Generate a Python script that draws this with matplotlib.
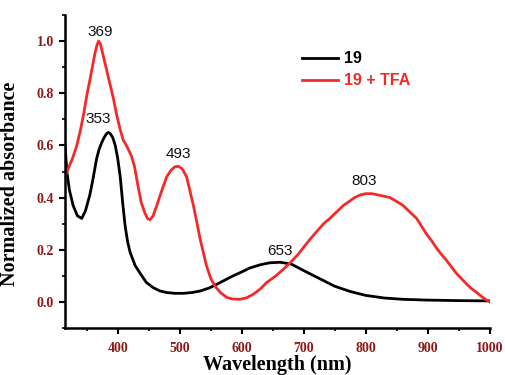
import matplotlib
matplotlib.use("Agg")
import matplotlib.pyplot as plt
from matplotlib.ticker import MultipleLocator

# Data
wl_black = [315, 318, 322, 328, 335, 342, 348, 355, 360, 366, 370, 374, 378, 382, 385, 388, 392,
            396, 400, 404, 408, 412, 416, 420, 428, 436, 446, 457, 468, 479, 492, 506, 520, 533,
            547, 560, 573, 586, 600, 613, 629, 645, 662, 680, 700, 725, 750, 775, 800, 830, 860,
            900, 950, 1000]
abs_black = [0.60, 0.50, 0.43, 0.37, 0.33, 0.32, 0.35, 0.41, 0.47, 0.55, 0.585, 0.61, 0.63,
             0.645, 0.65, 0.645, 0.63, 0.60, 0.55, 0.48, 0.38, 0.29, 0.23, 0.19, 0.14, 0.11,
             0.075, 0.055, 0.042, 0.036, 0.033, 0.033, 0.036, 0.042, 0.053, 0.068, 0.084, 0.100,
             0.115, 0.130, 0.142, 0.150, 0.152, 0.145, 0.120, 0.090, 0.060, 0.040, 0.025, 0.015,
             0.010, 0.007, 0.005, 0.004]

wl_red = [315, 320, 327, 334, 340, 345, 350, 355, 359, 363, 366, 369, 372, 376, 379, 382, 387,
          393, 398, 404, 409, 414, 418, 422, 427, 433, 438, 444, 448, 452, 457, 463, 470, 479,
          486, 492, 498, 504, 511, 516, 522, 528, 533, 538, 543, 550, 557, 566, 576, 586, 597,
          608, 619, 630, 640, 655, 667, 678, 690, 700, 710, 721, 732, 742, 753, 764, 773, 782,
          791, 800, 810, 820, 830, 839, 850, 860, 871, 882, 890, 898, 906, 913, 921, 930, 938,
          946, 954, 962, 970, 979, 986, 993, 1000]
abs_red = [0.48, 0.51, 0.55, 0.60, 0.66, 0.72, 0.79, 0.85, 0.90, 0.95, 0.98, 1.00, 0.99, 0.95,
           0.92, 0.89, 0.84, 0.78, 0.72, 0.66, 0.62, 0.60, 0.58, 0.56, 0.52, 0.44, 0.38, 0.34,
           0.32, 0.315, 0.33, 0.37, 0.42, 0.48, 0.505, 0.518, 0.52, 0.51, 0.48, 0.43, 0.37,
           0.30, 0.24, 0.19, 0.14, 0.09, 0.06, 0.035, 0.017, 0.011, 0.010, 0.016, 0.030, 0.050,
           0.074, 0.100, 0.125, 0.150, 0.180, 0.210, 0.240, 0.270, 0.300, 0.320, 0.345, 0.370,
           0.385, 0.400, 0.410, 0.415, 0.415, 0.410, 0.405, 0.400, 0.385, 0.370, 0.345, 0.320,
           0.290, 0.260, 0.235, 0.210, 0.185, 0.160, 0.135, 0.110, 0.090, 0.070, 0.052, 0.036,
           0.022, 0.010, 0.0]

peak_labels = ["369", "353", "493", "653", "803"]
label_x = [371, 368, 498, 662, 798]
label_y = [1.035, 0.70, 0.566, 0.195, 0.464]

series_names = ["19", "19 + TFA"]

RED = "#f42a2a"
TICKRED = "#8b1a1a"

fig = plt.figure(figsize=(5.06, 3.75), dpi=100)
ax = fig.add_axes([0.1285, 0.1253, 0.8395, 0.8347])

ax.plot(wl_black, abs_black, color="black", lw=2.0, label=series_names[0])
ax.plot(wl_red, abs_red, color=RED, lw=2.0, label=series_names[1])

for lab, x, y in zip(peak_labels, label_x, label_y):
    ax.text(x, y, lab, ha="center", va="center", fontsize=11,
            family="Liberation Sans", color="#111111")

ax.set_xlim(315, 1000)
ax.set_ylim(-0.1, 1.1)
ax.xaxis.set_minor_locator(MultipleLocator(50))
ax.yaxis.set_minor_locator(MultipleLocator(0.1))

ax.spines["top"].set_visible(False)
ax.spines["right"].set_visible(False)
for s in ("left", "bottom"):
    ax.spines[s].set_linewidth(1.8)

ax.tick_params(which="major", direction="out", length=4, width=1.5, pad=4)
ax.tick_params(which="minor", direction="out", length=2.5, width=1.2)
ax.tick_params(axis="x", which="major", pad=6)

ax.set_yticks([0.0, 0.2, 0.4, 0.6, 0.8, 1.0])
ax.set_xticks([400, 500, 600, 700, 800, 900, 1000])
ax.set_yticklabels(["0.0", "0.2", "0.4", "0.6", "0.8", "1.0"])
ax.set_xticklabels(["400", "500", "600", "700", "800", "900", "1000"])
for lbl in ax.get_xticklabels() + ax.get_yticklabels():
    lbl.set_family("Liberation Serif")
    lbl.set_fontweight("bold")
    lbl.set_fontsize(10)
    lbl.set_color(TICKRED)

ax.set_xlabel("Wavelength (nm)", family="Liberation Serif", fontweight="bold",
              fontsize=14.5, labelpad=0)
ax.set_ylabel("Normalized absorbance", family="Liberation Serif", fontweight="bold",
              fontsize=14.5)
ax.yaxis.set_label_coords(-0.106, 0.46)

leg = ax.legend(loc="upper left", bbox_to_anchor=(0.525, 0.93), frameon=False,
                prop={"family": "Liberation Sans", "weight": "bold", "size": 11.5},
                handlelength=2.2, handletextpad=0.4, labelspacing=0.45)
for txt, c in zip(leg.get_texts(), ["black", RED]):
    txt.set_color(c)

fig.savefig("out.png", dpi=100)
